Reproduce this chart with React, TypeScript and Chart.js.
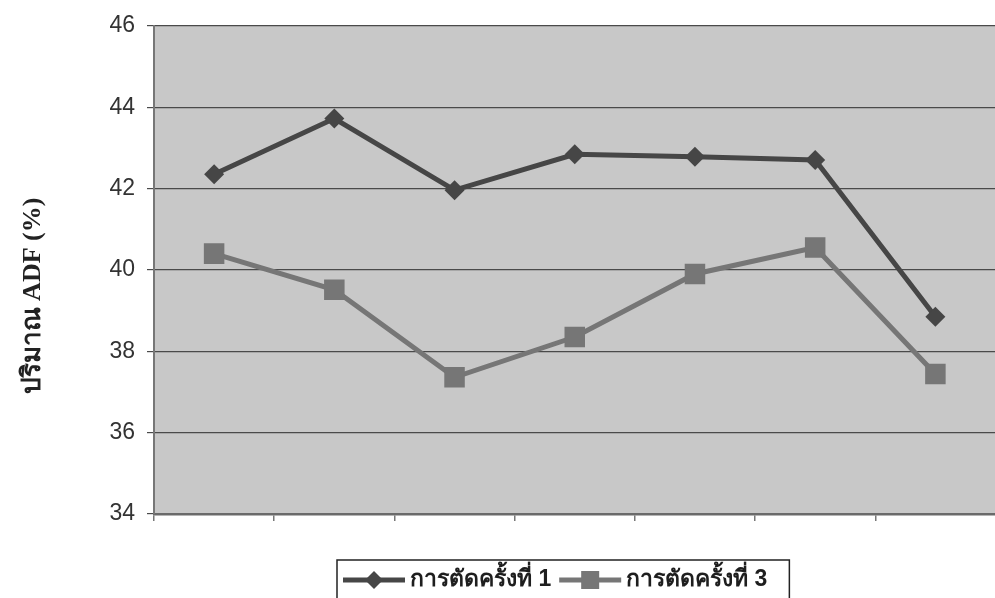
import React, { useEffect, useRef } from "react";
import { Chart, registerables } from "chart.js";

Chart.register(...registerables);

const categories = ["1", "2", "3", "4", "5", "6", "7"];
const series1Label = "การตัดครั้งที่ 1";
const series2Label = "การตัดครั้งที่ 3";
const series1 = [42.35, 43.72, 41.96, 42.84, 42.78, 42.7, 38.85];
const series2 = [40.4, 39.51, 37.36, 38.35, 39.9, 40.55, 37.44];
const yTicks = [34, 36, 38, 40, 42, 44, 46];
const yTitle = "ปริมาณ ADF (%)";

const C1 = "#464646";
const C2 = "#767676";
const PLOT_BG = "#c8c8c8";

const decorPlugin = {
  id: "decor",
  beforeDraw(chart: any) {
    const { ctx, chartArea: a } = chart;
    ctx.save();
    ctx.fillStyle = PLOT_BG;
    ctx.fillRect(a.left, a.top, a.right - a.left, a.bottom - a.top);
    ctx.restore();
  },
  afterDraw(chart: any) {
    const { ctx } = chart;
    // y-axis title
    ctx.save();
    ctx.translate(33, 296);
    ctx.rotate(-Math.PI / 2);
    ctx.fillStyle = "#222";
    ctx.font = 'bold 26px "Liberation Serif", serif';
    ctx.textAlign = "center";
    ctx.textBaseline = "middle";
    ctx.fillText(yTitle, 0, 0);
    ctx.restore();

    // legend
    ctx.save();
    ctx.font = 'bold 23px "Liberation Sans", "Noto Sans", sans-serif';
    const cy = 580;
    const boxLeft = 337;
    let x = boxLeft + 6;
    const items = [
      { label: series1Label, color: C1, shape: "diamond" },
      { label: series2Label, color: C2, shape: "square" },
    ];
    items.forEach((it) => {
      ctx.strokeStyle = it.color;
      ctx.lineWidth = 5;
      ctx.beginPath();
      ctx.moveTo(x, cy);
      ctx.lineTo(x + 62, cy);
      ctx.stroke();
      ctx.fillStyle = it.color;
      const mx = x + 31;
      if (it.shape === "diamond") {
        ctx.beginPath();
        ctx.moveTo(mx, cy - 9);
        ctx.lineTo(mx + 9, cy);
        ctx.lineTo(mx, cy + 9);
        ctx.lineTo(mx - 9, cy);
        ctx.closePath();
        ctx.fill();
      } else {
        ctx.fillRect(mx - 9, cy - 9, 18, 18);
      }
      x += 67;
      ctx.fillStyle = "#1e1e1e";
      ctx.textAlign = "left";
      ctx.textBaseline = "middle";
      ctx.fillText(it.label, x, cy);
      x += ctx.measureText(it.label).width + 8;
    });
    const boxRight = x + 14;
    ctx.strokeStyle = "#222";
    ctx.lineWidth = 1.5;
    ctx.beginPath();
    ctx.moveTo(boxLeft, 600);
    ctx.lineTo(boxLeft, 560);
    ctx.lineTo(boxRight, 560);
    ctx.lineTo(boxRight, 600);
    ctx.stroke();
    ctx.restore();
  },
};

export default function App() {
  const ref = useRef<HTMLCanvasElement>(null);
  useEffect(() => {
    if (!ref.current) return;
    const chart = new Chart(ref.current, {
      type: "line",
      data: {
        labels: categories,
        datasets: [
          {
            label: series1Label,
            data: series1,
            borderColor: C1,
            backgroundColor: C1,
            borderWidth: 5,
            pointStyle: "rectRot",
            pointRadius: 10,
            pointBorderWidth: 0,
            tension: 0,
          },
          {
            label: series2Label,
            data: series2,
            borderColor: C2,
            backgroundColor: C2,
            borderWidth: 5,
            pointStyle: "rect",
            pointRadius: 14.5,
            pointBorderWidth: 0,
            tension: 0,
          },
        ],
      },
      options: {
        animation: false,
        responsive: false,
        maintainAspectRatio: false,
        devicePixelRatio: 1,
        layout: { padding: { top: 25, right: 4, left: 0, bottom: 0 } },
        plugins: {
          legend: { display: false },
          tooltip: { enabled: false },
        },
        scales: {
          x: {
            offset: true,
            afterFit: (s: any) => {
              s.height = 84;
            },
            ticks: { display: false },
            grid: {
              offset: true,
              drawOnChartArea: false,
              drawTicks: true,
              tickLength: 7,
              color: "#777",
              lineWidth: 1.5,
            },
            border: { display: true, color: "#6a6a6a", width: 2.5 },
          },
          y: {
            min: 34,
            max: 46,
            afterFit: (s: any) => {
              s.width = 154;
            },
            afterBuildTicks: (s: any) => {
              s.ticks = yTicks.map((v) => ({ value: v }));
            },
            ticks: {
              color: "#333",
              padding: 12,
              font: { family: '"Liberation Sans", Arial, sans-serif', size: 23 },
            },
            grid: {
              color: "#4a4a4a",
              lineWidth: 1.2,
              drawTicks: true,
              tickLength: 7,
            },
            border: { display: true, color: "#777", width: 2 },
          },
        },
      },
      plugins: [decorPlugin],
    });
    return () => chart.destroy();
  }, []);
  return (
    <div
      style={{
        position: "fixed",
        left: 0,
        top: 0,
        width: 995,
        height: 598,
        overflow: "hidden",
        background: "#fff",
      }}
    >
      <canvas
        ref={ref}
        width={1010}
        height={598}
        style={{ display: "block", width: 1010, height: 598 }}
      />
    </div>
  );
}
